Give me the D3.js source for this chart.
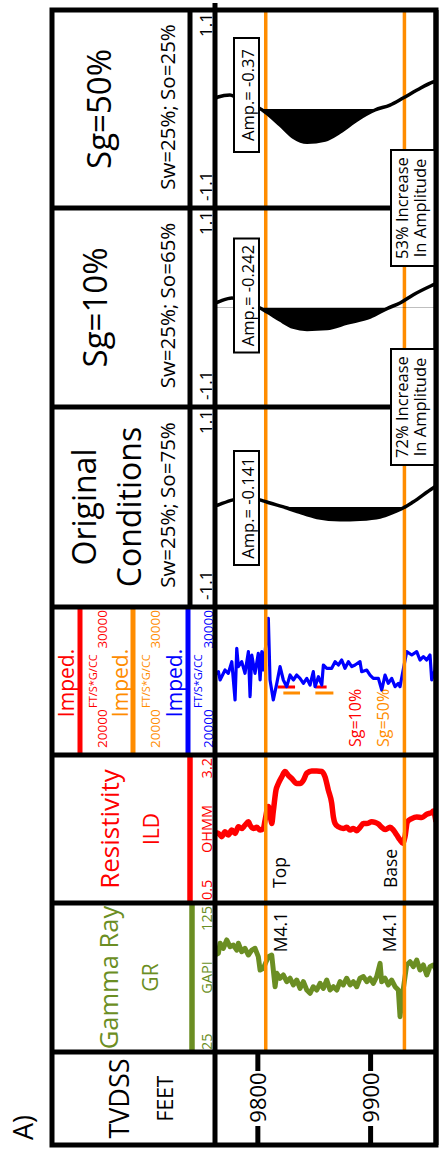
<!DOCTYPE html>
<html>
<head>
<meta charset="utf-8">
<script src="https://cdn.jsdelivr.net/npm/d3@7"></script>
<style>
  body { margin: 0; background: #fff; }
  svg { display: block; }
</style>
</head>
<body>
<svg id="chart" width="443" height="1153"></svg>
<script>
// ---------------- data ----------------
const depthExtent = [9762, 9958];          // TVDSS feet shown in the data panel
const depthTicks = [9800, 9900];
const horizonDepths = [9807, 9930];         // M4.1 top and base
const horizonPicks = ['M4.1', 'M4.1'];
const horizonNames = ['Top', 'Base'];

// Gamma ray (GAPI) by depth
const grLog = [
  [9762,90],[9765,91.2],[9766.5,98.0],[9769.4,94.6],[9772.4,100.2],[9775.3,95.7],[9778.3,96.8],
  [9781.3,93.4],[9782.7,98.0],[9785.7,92.3],[9788.6,94.6],[9791.6,90.1],[9794.6,93.4],[9797.5,94.6],
  [9800.4,89.0],[9802,80.0],[9804.9,81.2],[9809.3,89.0],[9812.3,90.1],[9815.3,68.8],[9816.8,77.8],
  [9819.7,74.5],[9822.6,76.7],[9825.6,72.2],[9828.6,74.5],[9831.5,70.0],[9834.5,73.3],[9837.4,67.7],
  [9840.4,72.2],[9843.4,66.6],[9846.3,64.4],[9849.2,68.8],[9852.2,66.6],[9855.2,71.1],[9858.1,67.7],
  [9861.1,73.3],[9864,66.6],[9867,68.8],[9870,66.6],[9872.9,72.2],[9875.8,70.0],[9878.8,74.5],
  [9881.8,70.0],[9884.7,72.2],[9887.7,68.8],[9890.6,74.5],[9893.6,75.6],[9896.6,72.2],[9899.5,74.5],
  [9902.4,71.1],[9905.4,75.6],[9908.4,84.5],[9909.8,72.2],[9912.8,74.5],[9915.7,70.0],[9918.7,73.3],
  [9921.7,68.8],[9924.6,66.6],[9926.1,48.7],[9927.6,59.9],[9932,83.4],[9935,85.6],[9937.9,82.3],
  [9940.9,86.7],[9943.8,80.0],[9946.8,83.4],[9949.8,76.7],[9952.7,82.3],[9955.6,83.4],[9958,80.5]
];

// Deep induction resistivity (OHMM) by depth
const ildLog = [
  [9762,1.78],[9765,1.77],[9768,1.71],[9770.9,1.80],[9773.8,1.74],[9776.9,1.83],[9779.8,1.77],
  [9782.7,1.89],[9785.7,1.86],[9788.6,1.92],[9791.6,1.98],[9793.1,1.92],[9796,1.86],[9799,1.88],
  [9802,1.83],[9804.9,1.86],[9806.4,2.01],[9809.3,2.26],[9811.4,2.04],[9812.3,1.95],[9813.7,2.17],
  [9816.1,2.56],[9818.2,2.68],[9821.2,2.80],[9824.1,2.90],[9827,2.83],[9830.1,2.77],[9834.5,2.68],
  [9837.4,2.68],[9840.4,2.74],[9843.4,2.87],[9847.8,2.91],[9852.2,2.91],[9856.7,2.90],[9859.6,2.80],
  [9862.5,2.56],[9865.5,2.32],[9867,2.07],[9868.5,1.95],[9871.4,1.89],[9875.8,1.86],[9878.8,1.88],
  [9881.8,1.83],[9884.7,1.86],[9887.7,1.82],[9890.6,1.88],[9893.6,1.95],[9896.6,1.95],[9901,1.98],
  [9903.9,1.97],[9906.9,1.94],[9909.9,1.88],[9912.8,1.84],[9917.2,1.88],[9920.2,1.83],[9923.2,1.74],
  [9926.1,1.65],[9928.5,1.59],[9930.5,1.71],[9932.6,1.98],[9936.5,2.04],[9940.9,2.07],[9945.4,2.06],
  [9949.8,2.12],[9954.2,2.15],[9955.6,2.18],[9958,1.98]
];

// Acoustic impedance (FT/S*G/CC), original conditions
const impOriginal = [
  [9762,25400],[9765,25630],[9766.5,25068],[9770.9,25743],[9773.8,25518],[9776.9,26306],[9779.8,23716],
  [9781.3,27207],[9782.7,25968],[9785.7,26306],[9788.6,25518],[9791.6,26982],[9793.1,23942],
  [9794.6,26757],[9797.5,25518],[9800.4,26869],[9802,25068],[9803.5,26982],[9804.9,25743],
  [9809.3,29236],[9810.8,25068],[9813.7,23716],[9816.8,24843],[9819.7,25968],[9822.6,25068],
  [9825.6,24617],[9828.6,25405],[9831.5,25068],[9834.5,25405],[9837.4,25180],[9840.4,24843],
  [9843.4,25180],[9846.3,24730],[9849.2,25630],[9850.7,24617],[9853.7,25293],[9856.7,24730],
  [9858.1,26081],[9861.1,25856],[9865.5,25856],[9868.5,26306],[9871.4,26081],[9874.4,26419],
  [9877.3,25856],[9880.3,26306],[9883.3,25968],[9886.2,26081],[9890.6,26306],[9892.1,25630],
  [9896.6,25743],[9899.5,25405],[9902.4,25180],[9906.9,25180],[9909.9,24392],[9912.8,25405],
  [9915.7,24843],[9918.7,25180],[9921.7,24617],[9924.6,24843],[9926.1,24617],[9932,26982],
  [9936.5,26757],[9940.9,26982],[9943.8,26419],[9946.8,26644],[9949.8,26419],[9952.7,26757],
  [9954.2,25068],[9957.1,25743],[9958,26700]
];
// Gas-substituted impedance where it departs from the original curve: [top, base, value]
const impSg10 = [[9817.5, 9833, 24600], [9851, 9861, 24600]];
const impSg50 = [[9822.6, 9837.4, 24190], [9851, 9867, 24190]];

// Synthetic seismic traces (normalised amplitude) by depth
const traceOriginal = [
  [9762,0.01],[9764.7,0.022],[9778,0.078],[9793.1,0.10],[9804.6,0.067],[9810.8,0.044],[9825.9,-0.011],
  [9837.4,-0.06],[9852.5,-0.115],[9872.9,-0.141],[9890.6,-0.135],[9908.4,-0.11],[9919.9,-0.06],
  [9928.8,-0.011],[9937.6,0.055],[9955.4,0.21],[9958,0.23]
];
const traceSg10 = [
  [9762,0.05],[9764.7,0.061],[9777.1,0.106],[9786.9,0.061],[9800.2,0.006],[9808.2,-0.05],[9819.7,-0.139],
  [9831.2,-0.217],[9843.6,-0.242],[9861.4,-0.233],[9879.1,-0.172],[9899.5,-0.106],[9915.5,-0.006],
  [9926.1,0.05],[9937.6,0.139],[9955.4,0.25],[9958,0.265]
];
const traceSg50 = [
  [9762,0.12],[9764.7,0.133],[9775.3,0.156],[9779.8,0.133],[9786.9,0.067],[9799.3,0.022],[9806.4,-0.033],
  [9819.7,-0.178],[9831.2,-0.311],[9843.6,-0.37],[9859.6,-0.344],[9872.9,-0.256],[9887.9,-0.122],
  [9903.9,-0.011],[9917.2,0.044],[9928.8,0.122],[9941.2,0.211],[9955.4,0.30],[9958,0.31]
];
const caseTitles = [['Original', 'Conditions'], ['Sg=10%'], ['Sg=50%']];
const caseSaturations = ['Sw=25%; So=75%', 'Sw=25%; So=65%', 'Sw=25%; So=25%'];
const caseAmplitudes = [-0.141, -0.242, -0.37];
const amplitudeGains = ['72% Increase', '53% Increase'];

const grRange = [25, 125];
const ildRange = [0.5, 3.2];
const impRange = [20000, 30000];
const ampRange = [-1.1, 1.1];

// ---------------- drawing ----------------
const FONT = "'Open Sans', 'Noto Sans', sans-serif";
const OLIVE = '#6b8e23', RED = '#ff0000', ORANGE = '#ff8c00', BLUE = '#0000ff';

const svg = d3.select('#chart');
svg.append('rect').attr('width', 443).attr('height', 1153).attr('fill', '#fff');

// The log is laid out with depth running down the page, then turned on its side.
const g = svg.append('g').attr('transform', 'translate(0,1153) rotate(-90)');
const defs = svg.append('defs');

const frame = { u0: 8, u1: 1143, v0: 52, v1: 436, vData: 215, vScale: 190 };
const edges = [8, 101, 250, 398, 546, 746, 945, 1143];
const track = i => [edges[i], edges[i + 1]];

const depth = d3.scaleLinear().domain(depthExtent).range([frame.vData, frame.v1]);

function label(parent, x, y, s, size, fill, anchor, extra) {
  const t = parent.append('text')
    .attr('x', x).attr('y', y)
    .attr('font-family', FONT).attr('font-size', size)
    .attr('fill', fill || '#000')
    .attr('text-anchor', anchor || 'middle')
    .text(s);
  if (extra) extra(t);
  return t;
}

function clipFor(id, u0, u1) {
  defs.append('clipPath').attr('id', id)
    .attr('clipPathUnits', 'userSpaceOnUse')
    .append('rect').attr('x', u0).attr('y', frame.vData).attr('width', u1 - u0).attr('height', frame.v1 - frame.vData);
  return `url(#${id})`;
}

// "A)" panel tag
label(g, 13, 33, 'A)', 27, '#000', 'start');

// ----- TVDSS track -----
{
  const [a, b] = track(0);
  const mid = (a + b) / 2;
  label(g, mid, 129, 'TVDSS', 27);
  label(g, mid, 173, 'FEET', 21);
  depthTicks.forEach(d => {
    const v = depth(d);
    g.append('line').attr('x1', a).attr('x2', a + 19).attr('y1', v).attr('y2', v).attr('stroke', '#000').attr('stroke-width', 5);
    g.append('line').attr('x1', b - 19).attr('x2', b).attr('y1', v).attr('y2', v).attr('stroke', '#000').attr('stroke-width', 5);
    label(g, mid + 1, v, String(d), 22, '#000', 'middle', t => t.attr('dy', '0.36em'));
  });
}

// ----- Gamma ray track -----
{
  const [a, b] = track(1);
  const mid = (a + b) / 2;
  label(g, mid, 118, 'Gamma Ray', 25.5, OLIVE);
  label(g, mid, 158, 'GR', 21, OLIVE);
  g.append('line').attr('x1', a).attr('x2', b).attr('y1', 192).attr('y2', 192).attr('stroke', OLIVE).attr('stroke-width', 5.5);
  label(g, a + 2, 212, String(grRange[0]), 14.5, OLIVE, 'start');
  label(g, mid, 212, 'GAPI', 14.5, OLIVE);
  label(g, b - 3, 212, String(grRange[1]), 14.5, OLIVE, 'end');
  const x = d3.scaleLinear().domain(grRange).range([a, b]);
  g.append('path').datum(grLog)
    .attr('clip-path', clipFor('clip-gr', a, b))
    .attr('d', d3.line().x(d => x(d[1])).y(d => depth(d[0])))
    .attr('fill', 'none').attr('stroke', OLIVE).attr('stroke-width', 5).attr('stroke-linejoin', 'round');
}

// ----- Resistivity track -----
{
  const [a, b] = track(2);
  const mid = (a + b) / 2;
  label(g, mid, 119, 'Resistivity', 26, RED);
  label(g, mid, 159, 'ILD', 21, RED);
  g.append('line').attr('x1', a).attr('x2', b).attr('y1', 190).attr('y2', 190).attr('stroke', RED).attr('stroke-width', 5.5);
  label(g, a + 3, 212, String(ildRange[0]), 14.5, RED, 'start');
  label(g, mid, 212, 'OHMM', 14.5, RED);
  label(g, b - 3, 212, String(ildRange[1]), 14.5, RED, 'end');
  const x = d3.scaleLinear().domain(ildRange).range([a, b]);
  g.append('path').datum(ildLog)
    .attr('clip-path', clipFor('clip-res', a, b))
    .attr('d', d3.line().x(d => x(d[1])).y(d => depth(d[0])).curve(d3.curveMonotoneY))
    .attr('fill', 'none').attr('stroke', RED).attr('stroke-width', 5.5).attr('stroke-linejoin', 'round');
}

// ----- Impedance track -----
{
  const [a, b] = track(3);
  const mid = (a + b) / 2;
  const legend = [
    { color: RED, title: 74, line: 80, nums: 107, unit: 97 },
    { color: ORANGE, title: 128, line: 133, nums: 160, unit: 150 },
    { color: BLUE, title: 182, line: 188, nums: 213, unit: 202 }
  ];
  legend.forEach(l => {
    label(g, mid - 2, l.title, 'Imped.', 21, l.color);
    g.append('line').attr('x1', a).attr('x2', b).attr('y1', l.line).attr('y2', l.line).attr('stroke', l.color).attr('stroke-width', 5);
    label(g, a + 7, l.nums, String(impRange[0]), 13.5, l.color, 'start');
    label(g, a + 47, l.unit, 'FT/S*G/CC', 11, l.color, 'start');
    label(g, b - 3, l.nums, String(impRange[1]), 13.5, l.color, 'end');
  });
  const x = d3.scaleLinear().domain(impRange).range([a, b]);
  const clip = clipFor('clip-imp', a, b);
  const layer = g.append('g').attr('clip-path', clip);
  const blocks = (data, color) => layer.selectAll(null).data(data).join('line')
    .attr('x1', d => x(d[2])).attr('x2', d => x(d[2]))
    .attr('y1', d => depth(d[0])).attr('y2', d => depth(d[1]))
    .attr('stroke', color).attr('stroke-width', 3);
  blocks(impSg50, ORANGE);
  blocks(impSg10, RED);
  layer.append('path').datum(impOriginal)
    .attr('d', d3.line().x(d => x(d[1])).y(d => depth(d[0])))
    .attr('fill', 'none').attr('stroke', BLUE).attr('stroke-width', 3.2).attr('stroke-linejoin', 'round');
  label(g, a + 8, 361, 'Sg=10%', 16, RED, 'start');
  label(g, a + 8, 389, 'Sg=50%', 16, ORANGE, 'start');
}

// ----- horizon lines (across all log and seismic tracks) -----
horizonDepths.forEach(d => {
  g.append('line')
    .attr('x1', edges[1]).attr('x2', frame.u1)
    .attr('y1', depth(d)).attr('y2', depth(d))
    .attr('stroke', ORANGE).attr('stroke-width', 3.5);
});
label(g, edges[2] - 9, depth(horizonDepths[0]) + 21, horizonPicks[0], 17.5, '#000', 'end');
label(g, edges[2] - 9, depth(horizonDepths[1]) - 8, horizonPicks[1], 17.5, '#000', 'end');
label(g, edges[2] + 15, depth(horizonDepths[0]) + 20, horizonNames[0], 17.5, '#000', 'start');
label(g, edges[2] + 15, depth(horizonDepths[1]) - 7, horizonNames[1], 17.5, '#000', 'start');

// ----- seismic tracks -----
const traces = [traceOriginal, traceSg10, traceSg50];
const titleBaselines = [[96, 141], [107], [111]];
const ampBoxCenters = [645, 857.5, 1058];
traces.forEach((tr, i) => {
  const [a, b] = track(4 + i);
  const mid = (a + b) / 2;
  caseTitles[i].forEach((line, j) => label(g, mid, titleBaselines[i][j], line, i === 0 ? 32 : 33));
  label(g, mid + 2, 175, caseSaturations[i], 20.5);
  label(g, a + 7, 212, String(ampRange[0]), 17, '#000', 'start');
  label(g, b - 3, 212, String(ampRange[1]), 17, '#000', 'end');

  const x = d3.scaleLinear().domain(ampRange).range([a, b]);
  const zero = x(0);
  const fillClip = `clip-fill-${i}`;
  defs.append('clipPath').attr('id', fillClip)
    .append('rect').attr('x', a).attr('y', frame.vData).attr('width', zero - a).attr('height', frame.v1 - frame.vData);
  g.append('path').datum(tr)
    .attr('clip-path', `url(#${fillClip})`)
    .attr('d', d3.area().y(d => depth(d[0])).x0(zero).x1(d => x(d[1])).curve(d3.curveMonotoneY))
    .attr('fill', '#000');
  g.append('path').datum(tr)
    .attr('d', d3.line().x(d => x(d[1])).y(d => depth(d[0])).curve(d3.curveMonotoneY))
    .attr('fill', 'none').attr('stroke', '#000').attr('stroke-width', 3.5);
});

// ----- frame and track dividers -----
const K = '#000', SW = 5;
g.append('rect').attr('x', frame.u0).attr('y', frame.v0)
  .attr('width', frame.u1 - frame.u0).attr('height', frame.v1 - frame.v0)
  .attr('fill', 'none').attr('stroke', K).attr('stroke-width', SW);
g.append('line').attr('x1', frame.u0).attr('x2', frame.u1 + 7).attr('y1', frame.vData).attr('y2', frame.vData)
  .attr('stroke', K).attr('stroke-width', SW);
g.append('line').attr('x1', edges[4]).attr('x2', frame.u1).attr('y1', frame.vScale).attr('y2', frame.vScale)
  .attr('stroke', K).attr('stroke-width', SW);
edges.slice(1, -1).forEach(u => {
  g.append('line').attr('x1', u).attr('x2', u).attr('y1', frame.v0).attr('y2', frame.v1)
    .attr('stroke', K).attr('stroke-width', SW);
});

// ----- annotation boxes -----
caseAmplitudes.forEach((amp, i) => {
  const c = ampBoxCenters[i];
  g.append('rect').attr('x', c - 57).attr('y', 234).attr('width', 114).attr('height', 25)
    .attr('fill', '#fff').attr('stroke', K).attr('stroke-width', 2);
  label(g, c, 253.5, 'Amp.= ' + amp, 16.5);
});
amplitudeGains.forEach((s, i) => {
  const c = edges[5 + i];
  g.append('rect').attr('x', c - 58).attr('y', 391).attr('width', 116).attr('height', 45)
    .attr('fill', '#fff').attr('stroke', K).attr('stroke-width', 2);
  label(g, c, 407.5, s, 16.5);
  label(g, c, 426, 'In Amplitude', 16.5);
});
// re-stroke the outer edge that the boxes sit against
g.append('line').attr('x1', frame.u0).attr('x2', frame.u1).attr('y1', frame.v1).attr('y2', frame.v1)
  .attr('stroke', K).attr('stroke-width', SW);
</script>
</body>
</html>
